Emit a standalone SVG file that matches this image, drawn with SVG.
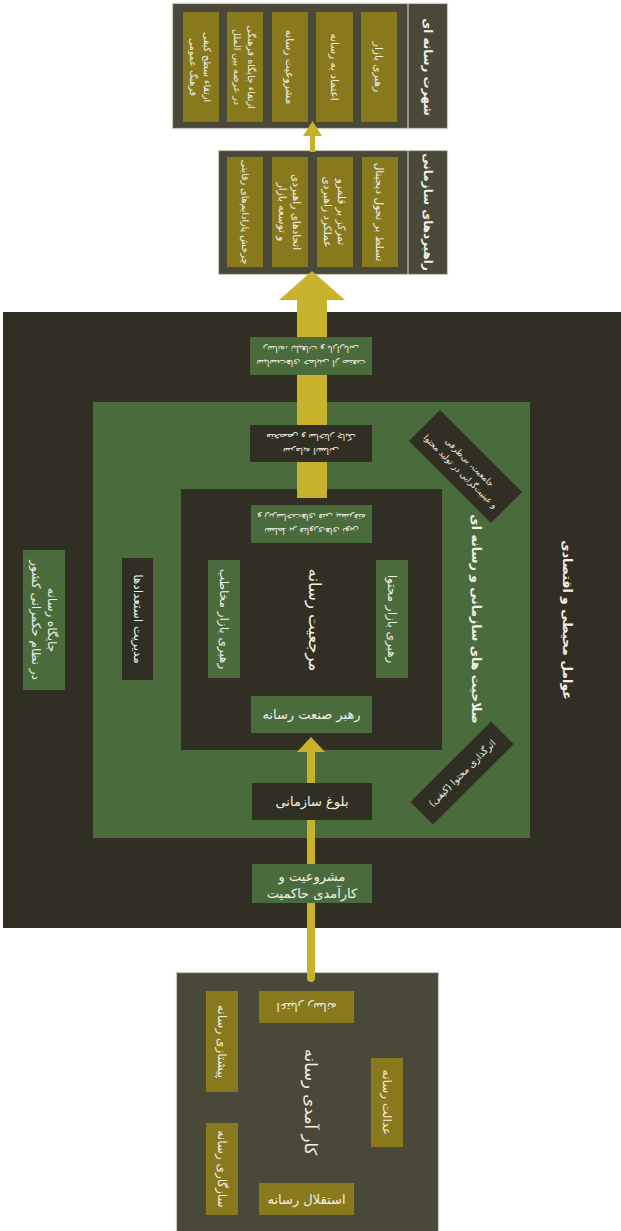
<svg xmlns="http://www.w3.org/2000/svg" width="621" height="1231" viewBox="0 0 621 1231">
<style>
text{font-family:"DejaVu Sans","Noto Sans",sans-serif;fill:#f2f1e6;text-anchor:middle;dominant-baseline:central}
.grp{fill:#4a4838;stroke:#c9c8bb;stroke-width:1.2}
.sep{stroke:#c9c8bb;stroke-width:1.2}
.col{fill:#88791d}
.dark{fill:#312f23}
.green{fill:#4a6b3c}
.s8{font-size:8.5px}
.s9{font-size:9px}
.s10{font-size:9.5px}
.s11{font-size:10.5px}
.s12{font-size:12px}
.s13{font-size:13px}
.big{font-size:16.5px}
.ttl{font-size:12.5px;font-weight:bold}
.ttl2{font-size:12px;font-weight:bold}
.arrow{fill:#c8b22c}
</style>
<rect x="0" y="0" width="621" height="1231" fill="#ffffff"/>

<g id="media-reputation">
<rect class="grp" x="172.5" y="3.5" width="275" height="125"/>
<line class="sep" x1="408" y1="3.5" x2="408" y2="128.5"/>
<text class="ttl2" transform="translate(428,67) rotate(90)">شهرت رسانه ای</text>
<rect class="col" x="361" y="12" width="36" height="110"/>
<text class="s11" transform="translate(379,67) rotate(90)">رهبری بازار</text>
<rect class="col" x="316" y="12" width="37" height="110"/>
<text class="s11" transform="translate(334.5,67) rotate(90)">اعتماد به رسانه</text>
<rect class="col" x="272" y="12" width="36" height="110"/>
<text class="s11" transform="translate(290,67) rotate(90)">مشروعیت رسانه</text>
<rect class="col" x="227" y="12" width="36" height="110"/>
<text class="s10" transform="translate(245,67) rotate(90)"><tspan x="0" y="-7">ارتقاء جایگاه فرهنگی</tspan><tspan x="0" y="7">در عرصه بین الملل</tspan></text>
<rect class="col" x="183" y="12" width="36" height="110"/>
<text class="s10" transform="translate(201,67) rotate(90)"><tspan x="0" y="-7">ارتقاء سطح کیفی</tspan><tspan x="0" y="7">فرهنگ عمومی</tspan></text>
</g>

<g id="organizational-strategies">
<rect class="grp" x="218.5" y="150.5" width="229" height="124"/>
<line class="sep" x1="408" y1="150.5" x2="408" y2="274.5"/>
<text class="ttl2" transform="translate(428,212) rotate(90)">راهبردهای سازمانی</text>
<rect class="col" x="362" y="157" width="36" height="110"/>
<text class="s11" transform="translate(380,212) rotate(90)">تسلط بر تحول دیجیتال</text>
<rect class="col" x="317" y="157" width="36" height="110"/>
<text class="s11" transform="translate(335,212) rotate(90)"><tspan x="0" y="-7">تمرکز بر قلمرو</tspan><tspan x="0" y="7">عملکرد راهبردی</tspan></text>
<rect class="col" x="272" y="157" width="36" height="110"/>
<text class="s11" transform="translate(290,212) rotate(90)"><tspan x="0" y="-7">اتحادهای راهبردی</tspan><tspan x="0" y="7">و توسعه بازار</tspan></text>
<rect class="col" x="227" y="157" width="36" height="110"/>
<text class="s10" transform="translate(245,212) rotate(90)">چرخش پارادایم‌های رقابتی</text>
</g>

<g id="environmental-economic">
<rect class="dark" x="3" y="312" width="618" height="616"/>
<text class="ttl" transform="translate(567,620) rotate(90)">عوامل محیطی و اقتصادی</text>
</g>

<g id="organizational-competencies">
<rect class="green" x="93" y="402" width="437" height="436"/>
<text class="ttl" transform="translate(476,619) rotate(90)">صلاحیت های سازمانی و رسانه ای</text>
</g>

<g id="media-authority">
<rect class="dark" x="181" y="489" width="261" height="261"/>
<text class="big" transform="translate(314,620) rotate(90)">مرجعیت رسانه</text>
</g>

<g id="media-efficiency">
<rect class="grp" x="176.5" y="972.5" width="262" height="270"/>
<text class="big" transform="translate(310,1102) rotate(90)">کار آمدی رسانه</text>
</g>

<g id="connectors">
<rect class="arrow" x="297" y="298" width="30" height="200"/>
<polygon class="arrow" points="279,300 345,300 312,271"/>
<rect class="arrow" x="310" y="133" width="5" height="19"/>
<polygon class="arrow" points="303,136 322,136 312.5,121"/>
<path class="arrow" d="M307,752 L307,978 A4,4 0 0 0 315,978 L315,752 Z"/>
<polygon class="arrow" points="297,752 325,752 311,737"/>
</g>

<g id="env-top-box">
<rect class="green" x="250" y="337" width="122" height="38"/>
<text class="s9" transform="translate(311,356) rotate(180)"><tspan x="0" y="-7">سیاست‌های حمایتی از صنعت</tspan><tspan x="0" y="7">رسانه، تبلیغات و بازاریابی</tspan></text>
</g>
<g id="country-governance">
<rect class="green" x="23" y="550" width="42" height="140"/>
<text class="s12" transform="translate(44,620) rotate(90)"><tspan x="0" y="-8">جایگاه رسانه</tspan><tspan x="0" y="8">در نظام حکمرانی کشور</tspan></text>
</g>
<g id="governance-legitimacy">
<rect class="green" x="252" y="864" width="120" height="39"/>
<text class="s13"><tspan x="312" y="876">مشروعیت و</tspan><tspan x="312" y="893">کارآمدی حاکمیت</tspan></text>
</g>

<g id="comp-top-box">
<rect class="dark" x="250" y="425" width="122" height="37"/>
<text class="s9" transform="translate(311,443.5) rotate(180)"><tspan x="0" y="-7">سرمایه انسانی</tspan><tspan x="0" y="7">متخصص و ساختار چابک</tspan></text>
</g>
<g id="talent-management">
<rect class="dark" x="122" y="558" width="31" height="122"/>
<text class="s12" transform="translate(137.5,619) rotate(90)">مدیریت استعدادها</text>
</g>
<g id="organizational-maturity">
<rect class="dark" x="252" y="783" width="120" height="37"/>
<text class="s13" x="312" y="801.5">بلوغ سازمانی</text>
</g>
<g id="content-objectivity">
<g transform="translate(465.5,466.5) rotate(45)">
<rect class="dark" x="-58" y="-22" width="116" height="44"/>
<text class="s8"><tspan x="0" y="-6">جامعیت، بی‌طرفی</tspan><tspan x="0" y="7">و عینیت‌گرایی در تولید محتوا</tspan></text>
</g>
</g>
<g id="content-quality">
<g transform="translate(462,773) rotate(-45)">
<rect class="dark" x="-57" y="-16" width="114" height="32"/>
<text class="s10" x="0" y="0">اثرگذاری محتوا (کیفی)</text>
</g>
</g>

<g id="authority-top-box">
<rect class="green" x="251" y="505" width="121" height="38"/>
<text class="s9" transform="translate(311.5,524) rotate(180)"><tspan x="0" y="-7">تسلط بر فناوری‌های نوین</tspan><tspan x="0" y="7">و زیرساخت‌های فنی پیشرفته</tspan></text>
</g>
<g id="content-market">
<rect class="green" x="376" y="560" width="32" height="118"/>
<text class="s12" transform="translate(392,619) rotate(90)">رهبری بازار محتوا</text>
</g>
<g id="audience-market">
<rect class="green" x="208" y="560" width="32" height="118"/>
<text class="s12" transform="translate(224,619) rotate(90)">رهبری بازار مخاطب</text>
</g>
<g id="industry-leader">
<rect class="green" x="251" y="696" width="121" height="37"/>
<text class="s13" x="311.5" y="714.5">رهبر صنعت رسانه</text>
</g>

<g id="media-credibility">
<rect class="col" x="259" y="991" width="95" height="32"/>
<text class="s12" transform="translate(306.5,1007) rotate(180)">اعتبار رسانه</text>
</g>
<g id="media-independence">
<rect class="col" x="259" y="1183" width="95" height="32"/>
<text class="s13" x="306.5" y="1199">استقلال رسانه</text>
</g>
<g id="media-pioneering">
<rect class="col" x="206" y="991" width="32" height="101"/>
<text class="s12" transform="translate(222,1041.5) rotate(90)">پیشتازی رسانه</text>
</g>
<g id="media-adaptability">
<rect class="col" x="206" y="1123" width="32" height="92"/>
<text class="s12" transform="translate(222,1169) rotate(90)">سازگاری رسانه</text>
</g>
<g id="media-justice">
<rect class="col" x="371" y="1058" width="32" height="89"/>
<text class="s12" transform="translate(387,1102.5) rotate(90)">عدالت رسانه</text>
</g>
</svg>
